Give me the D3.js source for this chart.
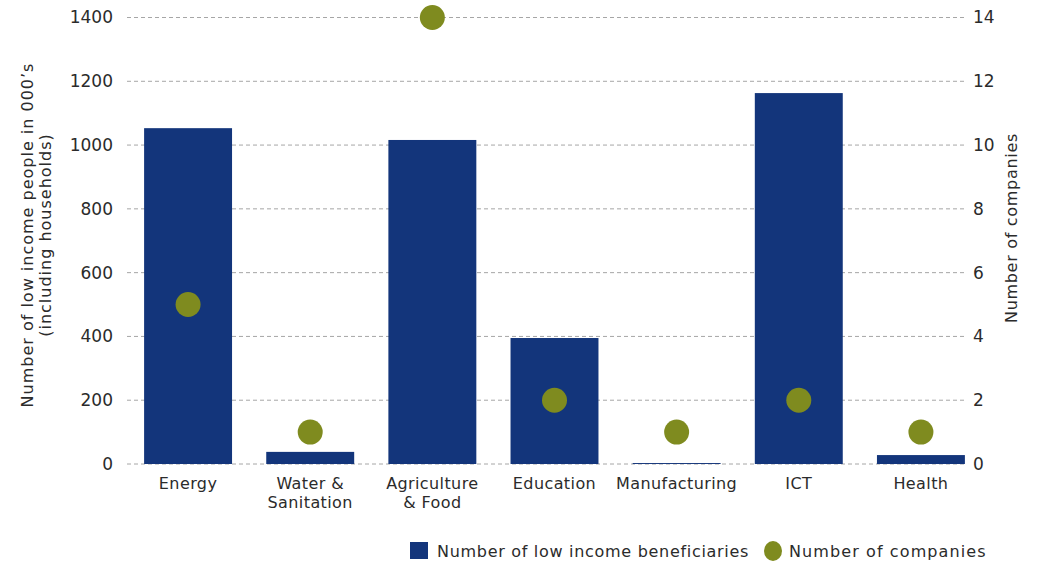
<!DOCTYPE html>
<html>
<head>
<meta charset="utf-8">
<script src="https://cdn.jsdelivr.net/npm/d3@7"></script>
<style>
  body { margin: 0; background: #fff; }
  text { font-family: "DejaVu Sans", "Noto Sans", sans-serif; fill: #2b2b2b; }
</style>
</head>
<body>
<div id="chart"></div>
<script>
// categories and values
const categories = ["Energy", "Water & Sanitation", "Agriculture & Food", "Education", "Manufacturing", "ICT", "Health"];
const categoryLines = [["Energy"], ["Water &", "Sanitation"], ["Agriculture", "& Food"], ["Education"], ["Manufacturing"], ["ICT"], ["Health"]];
const beneficiaries = [1053, 38, 1016, 395, 3, 1163, 28];   // thousands
const companies = [5, 1, 14, 2, 1, 2, 1];
const leftTicks = [0, 200, 400, 600, 800, 1000, 1200, 1400];
const rightTicks = [0, 2, 4, 6, 8, 10, 12, 14];

const W = 1037, H = 562;
const barColor = "#13357b", dotColor = "#7f8b1f";

const svg = d3.select("#chart").append("svg")
    .attr("width", W)
    .attr("height", H);

const x = d3.scaleBand()
    .domain(categories)
    .range([127, 982])
    .paddingInner(0.28)
    .paddingOuter(0.14);

const y = d3.scaleLinear().domain([0, 1400]).range([464, 17.5]);
const y2 = d3.scaleLinear().domain([0, 14]).range([464, 17.5]);

const gridRight = x(categories[categories.length - 1]) + x.bandwidth();

// gridlines
svg.append("g")
    .selectAll("line")
    .data(leftTicks)
    .enter()
    .append("line")
        .attr("x1", 127)
        .attr("x2", gridRight)
        .attr("y1", d => y(d))
        .attr("y2", d => y(d))
        .attr("stroke", "#a6a6a6")
        .attr("stroke-width", 1)
        .attr("stroke-dasharray", "4,3");

// left axis
const leftAxis = svg.append("g")
    .attr("transform", "translate(127,0)")
    .call(d3.axisLeft(y).tickValues(leftTicks).tickSize(0).tickPadding(14).tickFormat(d3.format("d")));
leftAxis.select(".domain").remove();
leftAxis.selectAll("text").style("font-size", "17px").attr("fill", "#2b2b2b");

// right axis
const rightAxis = svg.append("g")
    .attr("transform", `translate(${gridRight},0)`)
    .call(d3.axisRight(y2).tickValues(rightTicks).tickSize(0).tickPadding(8));
rightAxis.select(".domain").remove();
rightAxis.selectAll("text").style("font-size", "17px").attr("fill", "#2b2b2b");

// bars
svg.selectAll("rect.bar")
    .data(beneficiaries)
    .enter()
    .append("rect")
        .attr("class", "bar")
        .attr("x", (d, i) => x(categories[i]))
        .attr("y", d => y(d))
        .attr("width", x.bandwidth())
        .attr("height", d => y(0) - y(d))
        .attr("fill", barColor);

// dots
svg.selectAll("circle.dot")
    .data(companies)
    .enter()
    .append("circle")
        .attr("class", "dot")
        .attr("cx", (d, i) => x(categories[i]) + x.bandwidth() / 2)
        .attr("cy", d => y2(d))
        .attr("r", 12.5)
        .attr("fill", dotColor);

// category labels
const catLabels = svg.append("g").selectAll("text")
    .data(categoryLines)
    .enter()
    .append("text")
        .attr("text-anchor", "middle")
        .attr("x", (d, i) => x(categories[i]) + x.bandwidth() / 2)
        .attr("y", 489)
        .style("font-size", "16px")
        .style("letter-spacing", "0.4px");
catLabels.selectAll("tspan")
    .data(d => d)
    .enter()
    .append("tspan")
        .attr("x", function() { return d3.select(this.parentNode).attr("x"); })
        .attr("dy", (d, i) => i === 0 ? 0 : 19)
        .text(d => d);

// axis titles
svg.append("text")
    .attr("transform", "translate(33,235) rotate(-90)")
    .attr("text-anchor", "middle")
    .style("font-size", "16px")
    .style("letter-spacing", "1px")
    .text("Number of low income people in 000\u2019s");
svg.append("text")
    .attr("transform", "translate(51,235) rotate(-90)")
    .attr("text-anchor", "middle")
    .style("font-size", "16px")
    .style("letter-spacing", "1px")
    .text("(including households)");
svg.append("text")
    .attr("transform", "translate(1017,228) rotate(-90)")
    .attr("text-anchor", "middle")
    .style("font-size", "16px")
    .style("letter-spacing", "0.7px")
    .text("Number of companies");

// legend
const legend = svg.append("g");
legend.append("rect")
    .attr("x", 410).attr("y", 542)
    .attr("width", 18).attr("height", 17)
    .attr("fill", barColor);
legend.append("text")
    .attr("x", 437).attr("y", 557)
    .style("font-size", "16px")
    .style("letter-spacing", "0.7px")
    .text("Number of low income beneficiaries");
legend.append("ellipse")
    .attr("cx", 773).attr("cy", 551)
    .attr("rx", 9).attr("ry", 10)
    .attr("fill", dotColor);
legend.append("text")
    .attr("x", 789).attr("y", 557)
    .style("font-size", "16px")
    .style("letter-spacing", "1.1px")
    .text("Number of companies");
</script>
</body>
</html>
